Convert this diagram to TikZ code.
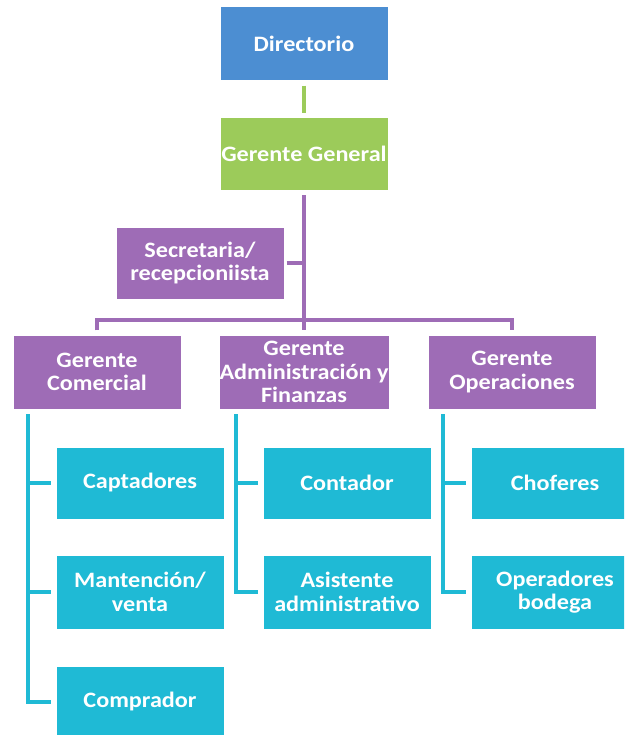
\documentclass[tikz,border=0pt]{standalone}
\usepackage{fontspec}
\setmainfont{Carlito}[FakeStretch=1.1]
\definecolor{cblue}{HTML}{4C8ED2}
\definecolor{cgreen}{HTML}{9CCB5A}
\definecolor{cpurple}{HTML}{9E6CB6}
\definecolor{ccyan}{HTML}{1FBAD5}
\begin{document}
\begin{tikzpicture}[x=1pt,y=-1pt,
  box/.style={rectangle, minimum width=167pt, minimum height=72pt, inner sep=0pt,
    text=white, font=\fontsize{22}{23.5}\selectfont\bfseries, align=center},
  bluebox/.style={box, fill=cblue},
  greenbox/.style={box, fill=cgreen},
  purplebox/.style={box, fill=cpurple},
  cyanbox/.style={box, fill=ccyan},
  gline/.style={draw=cgreen, line width=4pt},
  pline/.style={draw=cpurple, line width=4pt},
  cline/.style={draw=ccyan, line width=4pt}]
\useasboundingbox (0,0) rectangle (624,735);
\clip (0,0) rectangle (624,735);
\fill[white] (0,0) rectangle (624,735);

\node[bluebox, minimum height=73pt] (dir) at (304,44) {Directorio};
\node[greenbox] (gg) at (304,154) {Gerente General};
\node[purplebox, minimum height=71pt] (sec) at (200,263) {Secretaria/\\recepcioniista};
\node[purplebox, minimum height=73pt] (gc) at (97,372) {Gerente\\Comercial};
\node[purplebox, minimum height=73pt] (gaf) at (304,372) {Gerente\\Administración y\\Finanzas};
\node[purplebox, minimum height=73pt] (go) at (512,372) {Gerente\\Operaciones};

\node[cyanbox, minimum height=71pt] (cap) at (140,483) {Captadores};
\node[cyanbox, minimum height=73pt] (man) at (140,592) {Mantención/\\venta};
\node[cyanbox, minimum height=70pt] (com) at (140,702) {Comprador};
\node[cyanbox, minimum height=71pt] (con) at (347,483) {Contador};
\node[cyanbox, minimum height=73pt] (asi) at (347,592) {Asistente\\administrativo};
\node[cyanbox, minimum height=71pt] (cho) at (555,483) {Choferes};
\node[cyanbox, minimum height=73pt] (ope) at (555,592) {Operadores\\bodega};

% top connectors
\draw[gline, shorten <=5pt, shorten >=5pt] (dir.south) -- (gg.north);
\coordinate (bar) at (304,320);
\draw[pline, shorten <=5pt] (gg.south) -- (bar);
\draw[pline, shorten >=5pt] (bar) -- (gaf.north);
\draw[pline, shorten <=3pt] (sec.east) -- (sec.east -| bar);
\draw[pline, shorten <=5pt, shorten >=5pt] (gc.north) |- (bar) -| (go.north);

% cyan branches
\coordinate (c1) at (28,414);
\coordinate (c2) at (236,414);
\coordinate (c3) at (443,414);
\draw[cline, shorten >=5pt] (c1) |- (com.west);
\draw[cline, shorten >=5pt] (c1 |- cap.west) -- (cap.west);
\draw[cline, shorten >=5pt] (c1 |- man.west) -- (man.west);
\draw[cline, shorten >=5pt] (c2) |- (asi.west);
\draw[cline, shorten >=5pt] (c2 |- con.west) -- (con.west);
\draw[cline, shorten >=5pt] (c3) |- (ope.west);
\draw[cline, shorten >=5pt] (c3 |- cho.west) -- (cho.west);
\end{tikzpicture}
\end{document}
